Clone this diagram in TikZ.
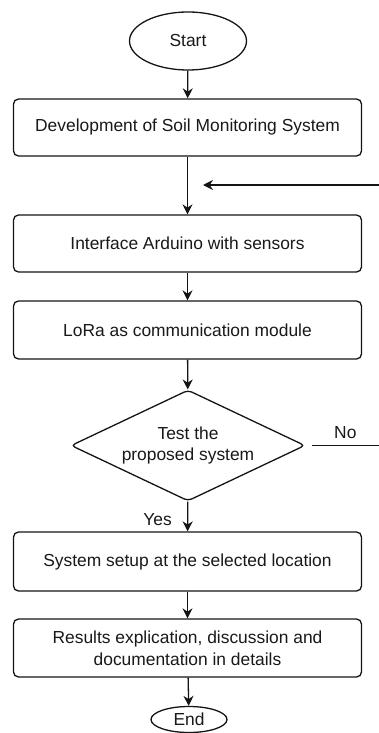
\documentclass[tikz,border=0pt]{standalone}
\usepackage{fontspec}
\setmainfont{Liberation Sans}
\usepackage{tikz}
\usetikzlibrary{shapes.geometric, arrows.meta, positioning, calc}
\definecolor{myline}{RGB}{20,20,20}
\definecolor{mytext}{RGB}{25,25,25}
\newcommand{\boxfont}{\fontsize{17.4}{21.6}\selectfont}
\tikzset{
  procbox/.style={rectangle, draw=myline, fill=white,
    minimum width=348pt, minimum height=57pt, inner sep=0pt,
    align=center, font=\boxfont, text=mytext,
    rounded corners=5pt, line width=1.3pt},
  terminal/.style={ellipse, draw=myline, fill=white, inner sep=0pt,
    font=\boxfont, text=mytext, line width=1.3pt},
  decision/.style={diamond, draw=myline, fill=white, inner sep=0pt,
    minimum width=234pt, minimum height=111pt, aspect=2.1,
    align=center, font=\boxfont, text=mytext,
    rounded corners=4pt, line width=1.3pt},
  arrow/.style={-{Stealth[length=10pt, width=10pt]}, line width=1.3pt, color=myline},
  line/.style={line width=1.3pt, color=myline}
}

\begin{document}
\begin{tikzpicture}[x=1pt, y=-1pt]
  \useasboundingbox (0,0) rectangle (379,733);

  % Flow blocks
  \node[terminal, minimum width=117pt, minimum height=58pt] (start) at (188,41) {Start};
  \node[procbox] (devsys) at (187.5,127.5) {Development of Soil Monitoring System};
  \node[procbox] (iface) at (187.5,243.5) {Interface Arduino with sensors};
  \node[procbox, minimum height=58pt] (lora) at (187.5,330) {LoRa as communication module};
  \node[decision] (test) at (188,445.5) {Test the\\proposed system};
  \node[procbox, minimum height=59pt] (setup) at (187.5,561.5) {System setup at the selected location};
  \node[procbox, minimum height=58pt] (results) at (187.5,648) {Results explication, discussion and\\documentation in details};
  \node[terminal, minimum width=76pt, minimum height=26pt] (stop) at (189,719.5) {End};

  % Loose ends on the right
  \coordinate (loopin) at (379,185);
  \coordinate (looptip) at (203,185);
  \coordinate (nostart) at ($(test.east)+(6,0)$);
  \coordinate (noend) at (379,445.5);

  % Connectors
  \draw[arrow] (start) -- (devsys);
  \draw[arrow] (devsys) -- (iface);
  \draw[arrow] (loopin) -- (looptip);
  \draw[arrow] (iface) -- (lora);
  \draw[arrow] (lora) -- (test);
  \draw[line] (nostart) -- (noend) node[midway, above=3pt, font=\boxfont, text=mytext] {No};
  \draw[arrow] (test) -- node[pos=0.6, left=12pt, font=\boxfont, text=mytext] {Yes} (setup);
  \draw[arrow] (setup) -- (results);
  \draw[arrow] (results) -- (stop);
\end{tikzpicture}
\end{document}
